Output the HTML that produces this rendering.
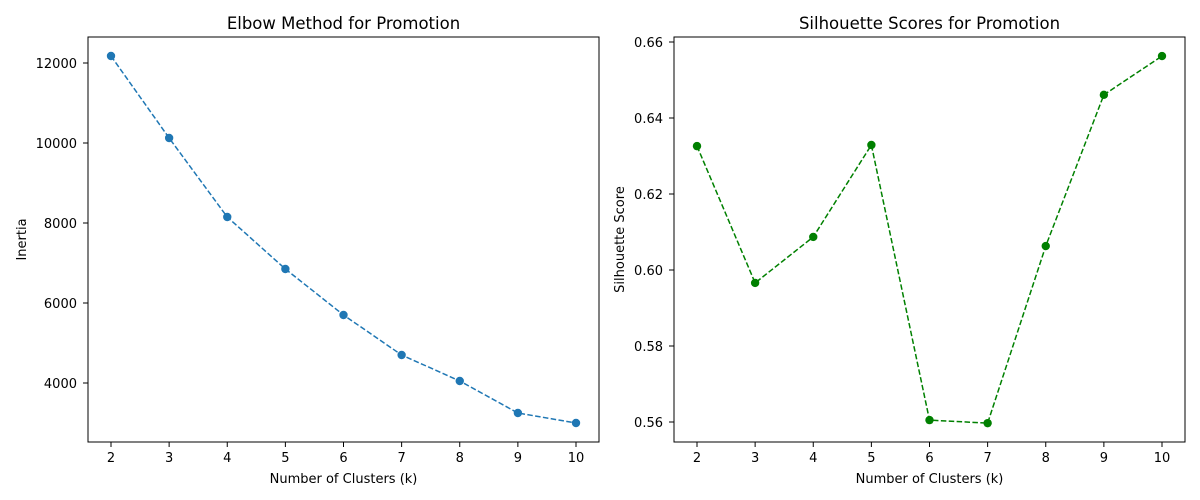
<!DOCTYPE html>
<html><head><meta charset="utf-8">
<style>
html,body{margin:0;padding:0;background:#fff;}
svg{display:block;font-family:"DejaVu Sans","Liberation Sans",sans-serif;}
</style></head>
<body>
<svg id="chart" width="1200" height="500" viewBox="0 0 1200 500"></svg>
<script>
const ks = [2,3,4,5,6,7,8,9,10];
const inertia = [12175,10125,8150,6850,5700,4700,4050,3250,3000];
const silhouette = [0.6326,0.5966,0.6087,0.6329,0.5605,0.5597,0.6063,0.6461,0.6563];
const xTicks = [2,3,4,5,6,7,8,9,10];
const inertiaTicks = [4000,6000,8000,10000,12000];
const silTicks = [0.56,0.58,0.60,0.62,0.64,0.66];

const NS="http://www.w3.org/2000/svg";
const svg=document.getElementById('chart');
function mk(tag,attrs,parent){const e=document.createElementNS(NS,tag);for(const k in attrs)e.setAttribute(k,attrs[k]);(parent||svg).appendChild(e);return e;}

function panel(cfg){
  const g=mk('g',{});
  
  
  const {left,right,top,bottom}=cfg;
  const xs=v=>cfg.x0px+(v-2)*(cfg.x1px-cfg.x0px)/8;
  const ys=v=>cfg.yAp+(v-cfg.yA)*(cfg.yBp-cfg.yAp)/(cfg.yB-cfg.yA);
  xTicks.forEach(t=>{
    const x=xs(t);
    const tk=mk('line',{x1:x,x2:x,y1:bottom,y2:bottom+5,stroke:'#000','stroke-width':1},g);
    
    
    const tl=mk('text',{x:x,y:bottom+20,'text-anchor':'middle','font-size':13,fill:'#000'},g);
    tl.textContent=t;
    
    
  });
  cfg.yTicks.forEach(t=>{
    const y=ys(t);
    const tk=mk('line',{x1:left-5,x2:left,y1:y,y2:y,stroke:'#000','stroke-width':1},g);
    
    
    const tl=mk('text',{x:left-11,y:y+5,'text-anchor':'end','font-size':13,fill:'#000'},g);
    tl.textContent=cfg.fmt(t);
    
    
  });
  const pts=cfg.data.map((v,i)=>xs(ks[i])+','+ys(v)).join(' ');
  const pl=mk('polyline',{points:pts,fill:'none',stroke:cfg.color,'stroke-width':1.5,'stroke-dasharray':'5.5,2.4'},g);
  
  
  cfg.data.forEach((v,i)=>{
    const c=mk('circle',{cx:xs(ks[i]),cy:ys(v),r:4.2,fill:cfg.color},g);
    
    
  });
  const fr=mk('rect',{x:left,y:top,width:right-left,height:bottom-top,fill:'none',stroke:'#000','stroke-width':1},g);
  
  
  const ti=mk('text',{x:(left+right)/2,y:top-8,'text-anchor':'middle','font-size':16.5,fill:'#000'},g);
  ti.textContent=cfg.title;
  
  
  const xl=mk('text',{x:(left+right)/2,y:483,'text-anchor':'middle','font-size':13,fill:'#000'},g);
  xl.textContent='Number of Clusters (k)';
  
  
  const cy=(top+bottom)/2;
  const yl=mk('text',{x:cfg.ylx,y:cy,'text-anchor':'middle','font-size':13,fill:'#000',transform:`rotate(-90 ${cfg.ylx} ${cy})`},g);
  yl.textContent=cfg.ylabel;
  
  
}

panel({name:'elbow-panel',left:88,right:599,top:37,bottom:442,x0px:111,x1px:576,
  yA:12000,yAp:63,yB:4000,yBp:383,yTicks:inertiaTicks,fmt:t=>String(t),
  data:inertia,color:'#1f77b4',title:'Elbow Method for Promotion',ylabel:'Inertia',ylx:26});
panel({name:'silhouette-panel',left:674,right:1185,top:37,bottom:442,x0px:697,x1px:1162,
  yA:0.66,yAp:42,yB:0.56,yBp:422,yTicks:silTicks,fmt:t=>t.toFixed(2),
  data:silhouette,color:'#008000',title:'Silhouette Scores for Promotion',ylabel:'Silhouette Score',ylx:624});
</script>
</body></html>
